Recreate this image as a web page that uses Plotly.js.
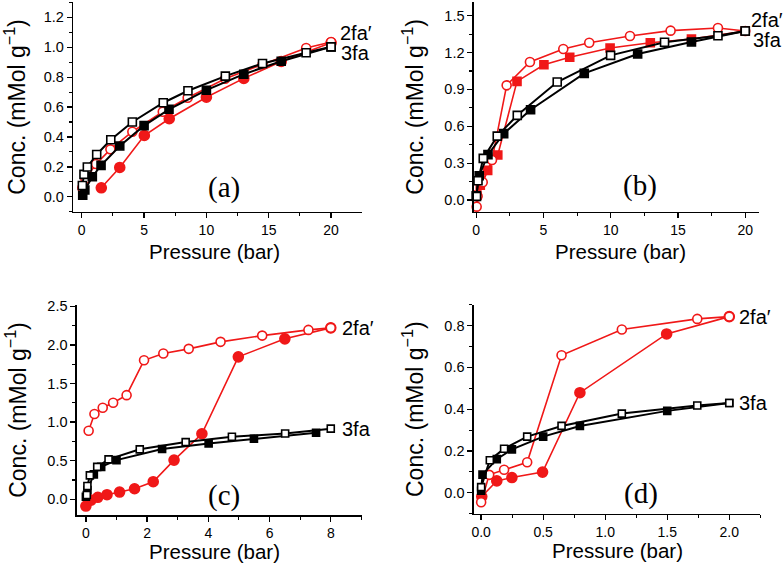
<!DOCTYPE html>
<html>
<head>
<meta charset="utf-8">
<script src="https://cdn.plot.ly/plotly-3.0.1.min.js"></script>
<style>html,body{margin:0;padding:0;background:#fff;}#chart{width:784px;height:564px;}</style>
</head>
<body>
<div id="chart"></div>
<script>
// ---------- Panel (a) ----------
const a_3fa_ads_x = [0.08, 0.25, 0.85, 1.55, 3.05, 5.0, 7.0, 10.0, 13.0, 16.0, 20.0];
const a_3fa_ads_y = [0.01, 0.045, 0.134, 0.21, 0.34, 0.476, 0.585, 0.713, 0.82, 0.907, 1.003];
const a_3fa_des_x = [0.05, 0.18, 0.45, 1.2, 2.33, 4.06, 6.54, 8.52, 11.52, 14.5, 18.0, 20.0];
const a_3fa_des_y = [0.075, 0.15, 0.199, 0.283, 0.381, 0.5, 0.629, 0.709, 0.807, 0.892, 0.963, 1.003];
const a_2fa_ads_x = [1.57, 3.05, 5.02, 7.02, 10.0, 13.0, 16.0, 20.0];
const a_2fa_ads_y = [0.06, 0.196, 0.41, 0.522, 0.666, 0.792, 0.905, 1.03];
const a_2fa_des_x = [0.05, 0.3, 1.15, 2.3, 4.06, 6.5, 8.5, 11.5, 14.5, 18.0, 20.0];
const a_2fa_des_y = [0.06, 0.12, 0.219, 0.317, 0.435, 0.569, 0.662, 0.79, 0.885, 0.995, 1.035];

// ---------- Panel (b) ----------
const b_3fa_ads_x = [0.0, 0.22, 0.87, 2.04, 4.04, 8.03, 12.0, 16.0, 20.0];
const b_3fa_ads_y = [0.035, 0.198, 0.369, 0.54, 0.735, 1.03, 1.188, 1.286, 1.375];
const b_3fa_des_x = [0.02, 0.13, 0.52, 1.56, 3.05, 6.02, 9.99, 14.0, 17.97, 20.0];
const b_3fa_des_y = [0.03, 0.157, 0.339, 0.52, 0.689, 0.96, 1.177, 1.283, 1.337, 1.375];
const b_2fa_ads_x = [0.05, 0.3, 0.85, 1.6, 3.03, 5.03, 6.95, 9.95, 12.94, 16.0, 20.0];
const b_2fa_ads_y = [0.04, 0.12, 0.241, 0.366, 0.965, 1.10, 1.162, 1.237, 1.28, 1.31, 1.375];
const b_2fa_des_x = [0.03, 0.1, 0.48, 1.17, 2.26, 3.99, 6.47, 8.4, 11.43, 14.45, 17.97, 20.0];
const b_2fa_des_y = [-0.054, 0.03, 0.144, 0.325, 0.933, 1.123, 1.229, 1.28, 1.334, 1.378, 1.40, 1.375];

// ---------- Panel (c) ----------
const c_3fa_ads_x = [0.0, 0.05, 0.26, 0.5, 1.0, 2.49, 4.01, 5.49, 7.52];
const c_3fa_ads_y = [0.034, 0.12, 0.323, 0.42, 0.508, 0.651, 0.724, 0.785, 0.862];
const c_3fa_des_x = [0.03, 0.05, 0.13, 0.37, 0.74, 1.76, 3.26, 4.77, 6.51, 8.0];
const c_3fa_des_y = [0.056, 0.172, 0.31, 0.42, 0.517, 0.647, 0.741, 0.81, 0.853, 0.915];
const c_2fa_ads_x = [0.0, 0.17, 0.39, 0.69, 1.1, 1.59, 2.2, 2.88, 3.79, 4.98, 6.5, 8.0];
const c_2fa_ads_y = [-0.087, -0.01, 0.026, 0.06, 0.094, 0.137, 0.228, 0.508, 0.849, 1.845, 2.078, 2.22];
const c_2fa_des_x = [0.09, 0.28, 0.55, 0.89, 1.33, 1.9, 2.53, 3.36, 4.4, 5.76, 7.27, 8.0];
const c_2fa_des_y = [0.888, 1.104, 1.185, 1.25, 1.349, 1.80, 1.889, 1.948, 2.039, 2.12, 2.194, 2.22];

// ---------- Panel (d) ----------
const d_3fa_ads_x = [0.0, 0.011, 0.126, 0.248, 0.5, 0.796, 1.5, 2.0];
const d_3fa_ads_y = [0.01, 0.087, 0.161, 0.208, 0.269, 0.32, 0.392, 0.43];
const d_3fa_des_x = [0.0, 0.07, 0.185, 0.371, 0.648, 1.134, 1.742, 2.0];
const d_3fa_des_y = [0.027, 0.156, 0.211, 0.269, 0.32, 0.379, 0.418, 0.43];
const d_2fa_ads_x = [0.005, 0.126, 0.248, 0.495, 0.796, 1.495, 2.0];
const d_2fa_ads_y = [-0.018, 0.057, 0.073, 0.099, 0.479, 0.76, 0.843];
const d_2fa_des_x = [0.0, 0.065, 0.185, 0.371, 0.648, 1.134, 1.742, 2.0];
const d_2fa_des_y = [-0.045, 0.086, 0.11, 0.146, 0.658, 0.781, 0.832, 0.843];

// labels
const seriesLabels = ["2fa\u2032", "3fa"];
const panelLabels = ["(a)", "(b)", "(c)", "(d)"];
const xTitle = "Pressure (bar)";
const yTitle = "Conc. (mMol g<sup>\u22121</sup>)";

const RED = "#f01818";
const BLACK = "#000000";
const SANS = "Liberation Sans, Arial, Helvetica, sans-serif";
const SERIF = "Liberation Serif, Times New Roman, serif";

function tr(x, y, ax, color, filled, symbol, size, lw) {
  return {
    x: x, y: y, xaxis: ax[0], yaxis: ax[1], type: "scatter", mode: "lines+markers",
    line: {color: color, width: lw},
    marker: {symbol: symbol, size: size, color: filled ? color : "#ffffff",
             line: {color: color, width: 1.6}},
    showlegend: false, cliponaxis: false, hoverinfo: "skip"
  };
}

const A = ["x", "y"], B = ["x2", "y2"], C = ["x3", "y3"], D = ["x4", "y4"];
const data = [
  // (a): red circles, black squares
  tr(a_2fa_ads_x, a_2fa_ads_y, A, RED, true, "circle", 10, 1.6),
  tr(a_2fa_des_x, a_2fa_des_y, A, RED, false, "circle", 9, 1.6),
  tr(a_3fa_ads_x, a_3fa_ads_y, A, BLACK, true, "square", 8, 2),
  tr(a_3fa_des_x, a_3fa_des_y, A, BLACK, false, "square", 8, 2),
  // (b): red squares (ads) + red open circles (des)
  tr(b_2fa_ads_x, b_2fa_ads_y, B, RED, true, "square", 8, 1.6),
  tr(b_2fa_des_x, b_2fa_des_y, B, RED, false, "circle", 9, 1.6),
  tr(b_3fa_ads_x, b_3fa_ads_y, B, BLACK, true, "square", 8, 2),
  tr(b_3fa_des_x, b_3fa_des_y, B, BLACK, false, "square", 8, 2),
  // (c)
  tr(c_2fa_ads_x, c_2fa_ads_y, C, RED, true, "circle", 10, 1.6),
  tr(c_2fa_des_x, c_2fa_des_y, C, RED, false, "circle", 9, 1.6),
  tr(c_3fa_ads_x, c_3fa_ads_y, C, BLACK, true, "square", 7, 2),
  tr(c_3fa_des_x, c_3fa_des_y, C, BLACK, false, "square", 7, 2),
  // (d)
  tr(d_2fa_ads_x, d_2fa_ads_y, D, RED, true, "circle", 10, 1.6),
  tr(d_2fa_des_x, d_2fa_des_y, D, RED, false, "circle", 9, 1.6),
  tr(d_3fa_ads_x, d_3fa_ads_y, D, BLACK, true, "square", 7, 2),
  tr(d_3fa_des_x, d_3fa_des_y, D, BLACK, false, "square", 7, 2)
];

const W = 784, H = 564;
function xd(l, r) { return [l / W, r / W]; }
function yd(t, b) { return [1 - b / H, 1 - t / H]; }

function xax(dom, range, dtick, anchor, fmt) {
  return {
    domain: dom, range: range, anchor: anchor, dtick: dtick, tick0: 0,
    showgrid: false, zeroline: false, showline: true, linecolor: "#000", linewidth: 1.3,
    ticks: "outside", ticklen: 5, tickwidth: 1.3, tickcolor: "#000",
    minor: {dtick: dtick / 2, ticks: "outside", ticklen: 3, tickwidth: 1.1, tickcolor: "#000", showgrid: false},
    tickfont: {family: SANS, size: 14, color: "#000"}, tickformat: fmt,
    automargin: false, fixedrange: true
  };
}
function yax(dom, range, dtick, anchor) {
  return {
    domain: dom, range: range, anchor: anchor, dtick: dtick, tick0: 0,
    showgrid: false, zeroline: false, showline: true, linecolor: "#000", linewidth: 1.3,
    ticks: "outside", ticklen: 5, tickwidth: 1.3, tickcolor: "#000",
    minor: {dtick: dtick / 2, ticks: "outside", ticklen: 3, tickwidth: 1.1, tickcolor: "#000", showgrid: false},
    tickfont: {family: SANS, size: 14.5, color: "#000"}, tickformat: ".1f",
    title: {text: yTitle, font: {family: SANS, size: 23, color: "#000"}, standoff: 14},
    automargin: false, fixedrange: true
  };
}

function lab(text, x, y, xr, yr, size, fam, anchor) {
  return {text: text, x: x, y: y, xref: xr, yref: yr, showarrow: false,
          xanchor: anchor || "left", yanchor: "middle",
          font: {family: fam, size: size, color: "#000"}};
}
function xt(cx, cy) {
  return {text: xTitle, x: cx / W, y: 1 - cy / H, xref: "paper", yref: "paper",
          showarrow: false, xanchor: "center", yanchor: "middle", borderpad: 0,
          font: {family: SANS, size: 20.5, color: "#000"}};
}

const layout = {
  width: W, height: H, margin: {l: 0, r: 0, t: 0, b: 0},
  paper_bgcolor: "#fff", plot_bgcolor: "#fff", showlegend: false,
  xaxis: xax(xd(73, 362), [-0.7, 22.48], 5, "y", "d"),
  yaxis: yax(yd(2, 212), [-0.102, 1.303], 0.2, "x"),
  xaxis2: xax(xd(473.7, 758.7), [-0.19, 21.0], 5, "y2", "d"),
  yaxis2: yax(yd(2, 211.7), [-0.095, 1.611], 0.3, "x2"),
  xaxis3: xax(xd(76.7, 362.3), [-0.3, 9.03], 2, "y3", "d"),
  yaxis3: yax(yd(304.7, 515.3), [-0.207, 2.52], 0.5, "x3"),
  xaxis4: xax(xd(473.7, 760.3), [-0.06, 2.25], 0.5, "y4", ".1f"),
  yaxis4: yax(yd(304.7, 513.7), [-0.1, 0.9], 0.2, "x4"),
  annotations: [
    xt(214, 251), xt(620, 251), xt(214, 551), xt(617, 550),

    lab(seriesLabels[0], 20.55, 1.095, "x", "y", 20, SANS),
    lab(seriesLabels[1], 20.6, 0.961, "x", "y", 20, SANS),
    lab(panelLabels[0], 11.4, 0.065, "x", "y", 29, SERIF, "center"),

    lab(seriesLabels[0], 20.3, 1.465, "x2", "y2", 20, SANS),
    lab(seriesLabels[1], 20.4, 1.30, "x2", "y2", 20, SANS),
    lab(panelLabels[1], 12.2, 0.122, "x2", "y2", 29, SERIF, "center"),

    lab(seriesLabels[0], 8.3, 2.22, "x3", "y3", 20, SANS),
    lab(seriesLabels[1], 8.3, 0.913, "x3", "y3", 20, SANS),
    lab(panelLabels[2], 4.51, 0.05, "x3", "y3", 29, SERIF, "center"),

    lab(seriesLabels[0], 2.062, 0.843, "x4", "y4", 20, SANS),
    lab(seriesLabels[1], 2.062, 0.431, "x4", "y4", 20, SANS),
    lab(panelLabels[3], 1.29, -0.003, "x4", "y4", 29, SERIF, "center")
  ]
};

Plotly.newPlot("chart", data, layout, {staticPlot: true, displayModeBar: false});
</script>
</body>
</html>
